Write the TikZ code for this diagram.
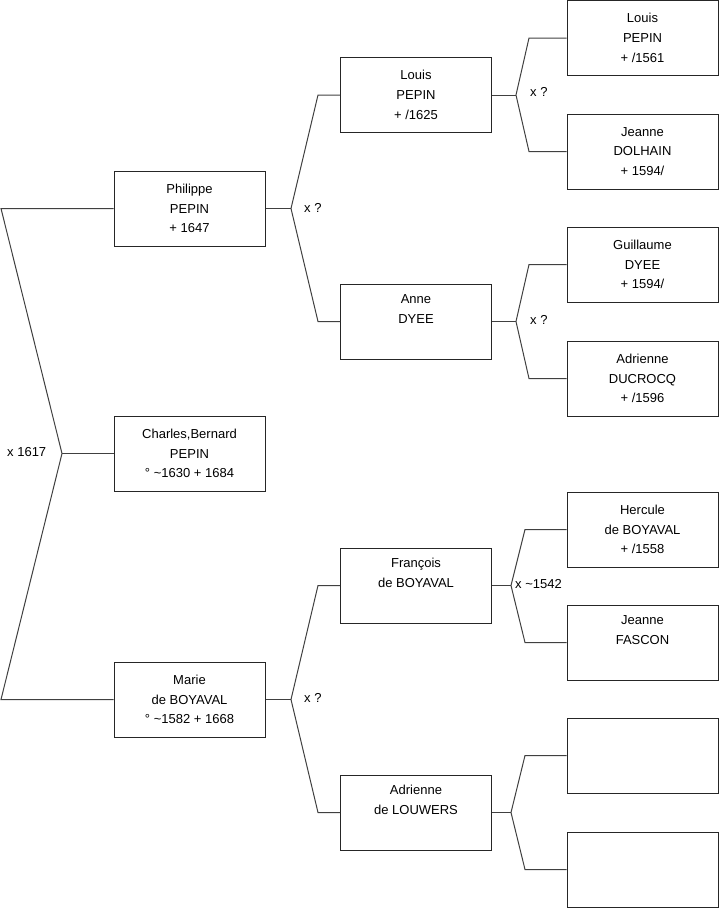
\documentclass[tikz,border=0pt]{standalone}
\usepackage{fontspec}
\setmainfont{Liberation Sans}
\newcommand{\tl}{\textasciitilde}
\begin{document}
\begin{tikzpicture}[x=1pt,y=-1pt,
  person/.style={draw=black!85, line width=1pt, minimum width=151pt, minimum height=75pt,
    align=center, font=\fontsize{13}{19.8}\selectfont, inner sep=0pt},
  link/.style={draw=black!75, line width=1pt},
  lab/.style={font=\fontsize{13}{15}\selectfont, inner sep=0pt, anchor=west}]
\useasboundingbox (0,0) rectangle (719,908);
% generation 1
\node[person] (phil) at (189.5,208.5) {Philippe\\PEPIN\\+ 1647};
\node[person] (charles) at (189.5,453.5) {Charles,Bernard\\PEPIN\\° \tl1630 + 1684};
\node[person] (marie) at (189.5,699.5) {Marie\\de BOYAVAL\\° \tl1582 + 1668};
% generation 2
\node[person] (louis) at (416,95) {Louis\\PEPIN\\+ /1625};
\node[person] (anne) at (416,321.5) {Anne\\DYEE\\\strut};
\node[person] (francois) at (416,585.5) {François\\de BOYAVAL\\\strut};
\node[person] (adrienne) at (416,812.5) {Adrienne\\de LOUWERS\\\strut};
% generation 3
\node[person] (louisb) at (642.5,38) {Louis\\PEPIN\\+ /1561};
\node[person] (jeanne) at (642.5,151.5) {Jeanne\\DOLHAIN\\+ 1594/};
\node[person] (guill) at (642.5,264.5) {Guillaume\\DYEE\\+ 1594/};
\node[person] (adrd) at (642.5,378.5) {Adrienne\\DUCROCQ\\+ /1596};
\node[person] (hercule) at (642.5,529.5) {Hercule\\de BOYAVAL\\+ /1558};
\node[person] (jeannef) at (642.5,642.5) {Jeanne\\FASCON\\\strut};
\node[person] (empa) at (642.5,755.5) {};
\node[person] (empb) at (642.5,869.5) {};
% forks
\coordinate (f1) at (62,453.5);
\coordinate (f1a) at (1,208.5);
\coordinate (f1b) at (1,699.5);
\draw[link] (phil.west) -- (f1a) -- (f1) -- (f1b) -- (marie.west);
\draw[link] (f1) -- (charles.west);
\node[lab] (m1) at (7,452) {x 1617};

\coordinate (f2) at (291,208.5);
\coordinate (f2a) at (318,95);
\coordinate (f2b) at (318,321.5);
\draw[link] (phil.east) -- (f2);
\draw[link] (louis.west) -- (f2a) -- (f2) -- (f2b) -- (anne.west);
\node[lab] (m2) at (304,208) {x ?};

\coordinate (f3) at (516,95);
\coordinate (f3a) at (529,38);
\coordinate (f3b) at (529,151.5);
\draw[link] (louis.east) -- (f3);
\draw[link] (louisb.west) -- (f3a) -- (f3) -- (f3b) -- (jeanne.west);
\node[lab] (m3) at (530,92) {x ?};

\coordinate (f4) at (516,321.5);
\coordinate (f4a) at (529,264.5);
\coordinate (f4b) at (529,378.5);
\draw[link] (anne.east) -- (f4);
\draw[link] (guill.west) -- (f4a) -- (f4) -- (f4b) -- (adrd.west);
\node[lab] (m4) at (530,320) {x ?};

\coordinate (f5) at (291,699.5);
\coordinate (f5a) at (318,585.5);
\coordinate (f5b) at (318,812.5);
\draw[link] (marie.east) -- (f5);
\draw[link] (francois.west) -- (f5a) -- (f5) -- (f5b) -- (adrienne.west);
\node[lab] (m5) at (304,698) {x ?};

\coordinate (f6) at (511,585.5);
\coordinate (f6a) at (525,529.5);
\coordinate (f6b) at (525,642.5);
\draw[link] (francois.east) -- (f6);
\draw[link] (hercule.west) -- (f6a) -- (f6) -- (f6b) -- (jeannef.west);
\node[lab] (m6) at (515,584) {x \tl1542};

\coordinate (f7) at (511,812.5);
\coordinate (f7a) at (525,755.5);
\coordinate (f7b) at (525,869.5);
\draw[link] (adrienne.east) -- (f7);
\draw[link] (empa.west) -- (f7a) -- (f7) -- (f7b) -- (empb.west);
\end{tikzpicture}
\end{document}
